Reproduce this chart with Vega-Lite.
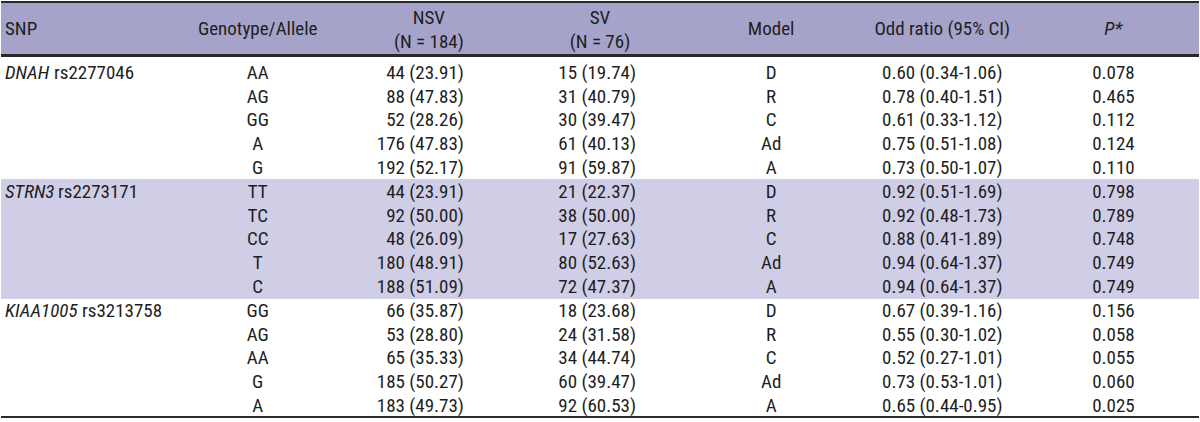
{
  "$schema": "https://vega.github.io/schema/vega-lite/v6.json",
  "width": 1200,
  "height": 422,
  "autosize": {"type": "fit", "contains": "padding"},
  "padding": 0,
  "background": "#ffffff",
  "config": {
    "view": {"stroke": null},
    "text": {"font": "Liberation Sans Narrow, Arial Narrow, Roboto Condensed, sans-serif", "fontSize": 19, "color": "#1e1e1e"}
  },
  "datasets": {
    "header": [
      {"col": "snp", "label": "SNP", "lines": 1},
      {"col": "geno", "label": "Genotype/Allele", "lines": 1},
      {"col": "nsv", "label": "NSV\n(N = 184)", "lines": 2},
      {"col": "sv", "label": "SV\n(N = 76)", "lines": 2},
      {"col": "model", "label": "Model", "lines": 1},
      {"col": "or", "label": "Odd ratio (95% CI)", "lines": 1},
      {"col": "p", "label": "P*", "lines": 1}
    ],
    "snps": [
      {"row": 1, "gene": "DNAH", "rs": "rs2277046"},
      {"row": 6, "gene": "STRN3", "rs": "rs2273171"},
      {"row": 11, "gene": "KIAA1005", "rs": "rs3213758"}
    ],
    "body": [
      {"row": 1, "geno": "AA", "nsv": "44 (23.91)", "sv": "15 (19.74)", "model": "D", "or": "0.60 (0.34-1.06)", "p": "0.078"},
      {"row": 2, "geno": "AG", "nsv": "88 (47.83)", "sv": "31 (40.79)", "model": "R", "or": "0.78 (0.40-1.51)", "p": "0.465"},
      {"row": 3, "geno": "GG", "nsv": "52 (28.26)", "sv": "30 (39.47)", "model": "C", "or": "0.61 (0.33-1.12)", "p": "0.112"},
      {"row": 4, "geno": "A", "nsv": "176 (47.83)", "sv": "61 (40.13)", "model": "Ad", "or": "0.75 (0.51-1.08)", "p": "0.124"},
      {"row": 5, "geno": "G", "nsv": "192 (52.17)", "sv": "91 (59.87)", "model": "A", "or": "0.73 (0.50-1.07)", "p": "0.110"},
      {"row": 6, "geno": "TT", "nsv": "44 (23.91)", "sv": "21 (22.37)", "model": "D", "or": "0.92 (0.51-1.69)", "p": "0.798"},
      {"row": 7, "geno": "TC", "nsv": "92 (50.00)", "sv": "38 (50.00)", "model": "R", "or": "0.92 (0.48-1.73)", "p": "0.789"},
      {"row": 8, "geno": "CC", "nsv": "48 (26.09)", "sv": "17 (27.63)", "model": "C", "or": "0.88 (0.41-1.89)", "p": "0.748"},
      {"row": 9, "geno": "T", "nsv": "180 (48.91)", "sv": "80 (52.63)", "model": "Ad", "or": "0.94 (0.64-1.37)", "p": "0.749"},
      {"row": 10, "geno": "C", "nsv": "188 (51.09)", "sv": "72 (47.37)", "model": "A", "or": "0.94 (0.64-1.37)", "p": "0.749"},
      {"row": 11, "geno": "GG", "nsv": "66 (35.87)", "sv": "18 (23.68)", "model": "D", "or": "0.67 (0.39-1.16)", "p": "0.156"},
      {"row": 12, "geno": "AG", "nsv": "53 (28.80)", "sv": "24 (31.58)", "model": "R", "or": "0.55 (0.30-1.02)", "p": "0.058"},
      {"row": 13, "geno": "AA", "nsv": "65 (35.33)", "sv": "34 (44.74)", "model": "C", "or": "0.52 (0.27-1.01)", "p": "0.055"},
      {"row": 14, "geno": "G", "nsv": "185 (50.27)", "sv": "60 (39.47)", "model": "Ad", "or": "0.73 (0.53-1.01)", "p": "0.060"},
      {"row": 15, "geno": "A", "nsv": "183 (49.73)", "sv": "92 (60.53)", "model": "A", "or": "0.65 (0.44-0.95)", "p": "0.025"}
    ]
  },
  "data": {"name": "body"},
  "layer": [
    {
      "mark": {"type": "rect", "color": "#a6a3ca"},
      "encoding": {
        "y": {"datum": -2.0176, "type": "quantitative", "scale": {"domain": [-2.0176, 15.669], "reverse": true, "nice": false, "zero": false}, "axis": null},
        "y2": {"datum": 0.2666}
      }
    },
    {
      "mark": {"type": "rect", "color": "#d0cee6"},
      "encoding": {
        "y": {"datum": 5.497, "type": "quantitative", "scale": {"domain": [-2.0176, 15.669], "reverse": true, "nice": false, "zero": false}, "axis": null},
        "y2": {"datum": 10.472}
      }
    },
    {
      "mark": {"type": "rule", "color": "#2a2a2a", "strokeWidth": 2},
      "encoding": {
        "y": {"datum": -1.976, "type": "quantitative", "scale": {"domain": [-2.0176, 15.669], "reverse": true, "nice": false, "zero": false}, "axis": null}
      }
    },
    {
      "mark": {"type": "rule", "color": "#2a2a2a", "strokeWidth": 2},
      "encoding": {
        "y": {"datum": 0.2666, "type": "quantitative", "scale": {"domain": [-2.0176, 15.669], "reverse": true, "nice": false, "zero": false}, "axis": null}
      }
    },
    {
      "mark": {"type": "rule", "color": "#2a2a2a", "strokeWidth": 2},
      "encoding": {
        "y": {"datum": 15.459, "type": "quantitative", "scale": {"domain": [-2.0176, 15.669], "reverse": true, "nice": false, "zero": false}, "axis": null}
      }
    },
    {
      "data": {"name": "header"},
      "transform": [{"filter": "datum.lines == 1 && datum.col != 'snp' && datum.col != 'p'"}],
      "mark": {"type": "text", "align": "center"},
      "encoding": {
        "x": {"field": "col", "type": "nominal", "bandPosition": 0.5, "scale": {"type": "band", "domain": ["snp", "geno", "nsv", "sv", "model", "or", "p"], "paddingInner": 0, "paddingOuter": 0}, "axis": null},
        "y": {"datum": -0.822, "type": "quantitative", "scale": {"domain": [-2.0176, 15.669], "reverse": true, "nice": false, "zero": false}, "axis": null},
        "text": {"field": "label"}
      }
    },
    {
      "data": {"name": "header"},
      "transform": [{"filter": "datum.lines == 2"}],
      "mark": {"type": "text", "align": "center", "lineBreak": "\n", "lineHeight": 24},
      "encoding": {
        "x": {"field": "col", "type": "nominal", "bandPosition": 0.5, "scale": {"type": "band", "domain": ["snp", "geno", "nsv", "sv", "model", "or", "p"], "paddingInner": 0, "paddingOuter": 0}, "axis": null},
        "y": {"datum": -1.284, "type": "quantitative", "scale": {"domain": [-2.0176, 15.669], "reverse": true, "nice": false, "zero": false}, "axis": null},
        "text": {"field": "label"}
      }
    },
    {
      "data": {"name": "header"},
      "transform": [{"filter": "datum.col == 'snp'"}],
      "mark": {"type": "text", "align": "left", "dx": 4},
      "encoding": {
        "x": {"field": "col", "type": "nominal", "bandPosition": 0, "scale": {"type": "band", "domain": ["snp", "geno", "nsv", "sv", "model", "or", "p"], "paddingInner": 0, "paddingOuter": 0}, "axis": null},
        "y": {"datum": -0.822, "type": "quantitative", "scale": {"domain": [-2.0176, 15.669], "reverse": true, "nice": false, "zero": false}, "axis": null},
        "text": {"field": "label"}
      }
    },
    {
      "data": {"name": "header"},
      "transform": [{"filter": "datum.col == 'p'"}],
      "mark": {"type": "text", "align": "center", "fontStyle": "italic"},
      "encoding": {
        "x": {"field": "col", "type": "nominal", "bandPosition": 0.5, "scale": {"type": "band", "domain": ["snp", "geno", "nsv", "sv", "model", "or", "p"], "paddingInner": 0, "paddingOuter": 0}, "axis": null},
        "y": {"datum": -0.822, "type": "quantitative", "scale": {"domain": [-2.0176, 15.669], "reverse": true, "nice": false, "zero": false}, "axis": null},
        "text": {"field": "label"}
      }
    },
    {
      "data": {"name": "snps"},
      "mark": {"type": "text", "align": "left", "dx": 4, "fontStyle": "italic"},
      "encoding": {
        "x": {"datum": "snp", "type": "nominal", "bandPosition": 0, "scale": {"type": "band", "domain": ["snp", "geno", "nsv", "sv", "model", "or", "p"], "paddingInner": 0, "paddingOuter": 0}, "axis": null},
        "y": {"field": "row", "type": "quantitative", "scale": {"domain": [-2.0176, 15.669], "reverse": true, "nice": false, "zero": false}, "axis": null},
        "text": {"field": "gene"}
      }
    },
    {
      "data": {"name": "snps"},
      "mark": {"type": "text", "align": "left", "dx": {"expr": "datum.gene == 'DNAH' ? 53 : datum.gene == 'STRN3' ? 57 : 81"}},
      "encoding": {
        "x": {"datum": "snp", "type": "nominal", "bandPosition": 0, "scale": {"type": "band", "domain": ["snp", "geno", "nsv", "sv", "model", "or", "p"], "paddingInner": 0, "paddingOuter": 0}, "axis": null},
        "y": {"field": "row", "type": "quantitative", "scale": {"domain": [-2.0176, 15.669], "reverse": true, "nice": false, "zero": false}, "axis": null},
        "text": {"field": "rs"}
      }
    },
    {
      "mark": {"type": "text", "align": "center"},
      "encoding": {
        "x": {"datum": "geno", "type": "nominal", "bandPosition": 0.5, "scale": {"type": "band", "domain": ["snp", "geno", "nsv", "sv", "model", "or", "p"], "paddingInner": 0, "paddingOuter": 0}, "axis": null},
        "y": {"field": "row", "type": "quantitative", "scale": {"domain": [-2.0176, 15.669], "reverse": true, "nice": false, "zero": false}, "axis": null},
        "text": {"field": "geno"}
      }
    },
    {
      "mark": {"type": "text", "align": "right", "dx": 35},
      "encoding": {
        "x": {"datum": "nsv", "type": "nominal", "bandPosition": 0.5, "scale": {"type": "band", "domain": ["snp", "geno", "nsv", "sv", "model", "or", "p"], "paddingInner": 0, "paddingOuter": 0}, "axis": null},
        "y": {"field": "row", "type": "quantitative", "scale": {"domain": [-2.0176, 15.669], "reverse": true, "nice": false, "zero": false}, "axis": null},
        "text": {"field": "nsv"}
      }
    },
    {
      "mark": {"type": "text", "align": "right", "dx": 36},
      "encoding": {
        "x": {"datum": "sv", "type": "nominal", "bandPosition": 0.5, "scale": {"type": "band", "domain": ["snp", "geno", "nsv", "sv", "model", "or", "p"], "paddingInner": 0, "paddingOuter": 0}, "axis": null},
        "y": {"field": "row", "type": "quantitative", "scale": {"domain": [-2.0176, 15.669], "reverse": true, "nice": false, "zero": false}, "axis": null},
        "text": {"field": "sv"}
      }
    },
    {
      "mark": {"type": "text", "align": "center"},
      "encoding": {
        "x": {"datum": "model", "type": "nominal", "bandPosition": 0.5, "scale": {"type": "band", "domain": ["snp", "geno", "nsv", "sv", "model", "or", "p"], "paddingInner": 0, "paddingOuter": 0}, "axis": null},
        "y": {"field": "row", "type": "quantitative", "scale": {"domain": [-2.0176, 15.669], "reverse": true, "nice": false, "zero": false}, "axis": null},
        "text": {"field": "model"}
      }
    },
    {
      "mark": {"type": "text", "align": "center"},
      "encoding": {
        "x": {"datum": "or", "type": "nominal", "bandPosition": 0.5, "scale": {"type": "band", "domain": ["snp", "geno", "nsv", "sv", "model", "or", "p"], "paddingInner": 0, "paddingOuter": 0}, "axis": null},
        "y": {"field": "row", "type": "quantitative", "scale": {"domain": [-2.0176, 15.669], "reverse": true, "nice": false, "zero": false}, "axis": null},
        "text": {"field": "or"}
      }
    },
    {
      "mark": {"type": "text", "align": "center"},
      "encoding": {
        "x": {"datum": "p", "type": "nominal", "bandPosition": 0.5, "scale": {"type": "band", "domain": ["snp", "geno", "nsv", "sv", "model", "or", "p"], "paddingInner": 0, "paddingOuter": 0}, "axis": null},
        "y": {"field": "row", "type": "quantitative", "scale": {"domain": [-2.0176, 15.669], "reverse": true, "nice": false, "zero": false}, "axis": null},
        "text": {"field": "p"}
      }
    }
  ]
}
